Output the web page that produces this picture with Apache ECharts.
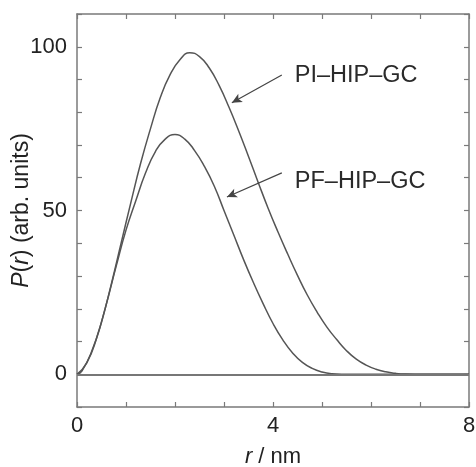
<!DOCTYPE html>
<html>
<head>
<meta charset="utf-8">
<script src="https://cdn.jsdelivr.net/npm/echarts@6/dist/echarts.min.js"></script>
<style>
html,body{margin:0;padding:0;background:#fff;}
#c{width:476px;height:467px;}
</style>
</head>
<body>
<div id="c"></div>
<script>
// PI-HIP-GC
const rPI = [0,0.1,0.3,0.5,0.7,0.9,1.1,1.3,1.5,1.7,1.9,2.1,2.3,2.5,2.7,2.9,3.1,3.3,3.5,3.7,3.9,4.1,4.3,4.5,4.7,4.9,5.1,5.3,5.5,5.7,5.9,6.1,6.3,6.5,6.7,6.9,8.0];
const pPI = [0,1,7,16,27.5,40,52.5,64.5,75,84.5,91.5,96,98.2,97,93.5,88.2,81.6,74.3,66.5,58.5,50.7,43.5,36.7,30.2,24.2,19,14.4,10.6,7.2,4.6,2.8,1.55,0.75,0.28,0.05,0,0];
// PF-HIP-GC
const rPF = [0,0.2,0.4,0.6,0.8,1.0,1.2,1.4,1.6,1.8,2.0,2.2,2.4,2.6,2.8,3.0,3.2,3.4,3.6,3.8,4.0,4.2,4.4,4.6,4.8,5.0,5.2,5.4,8.0];
const pPF = [0,3.5,11,21.5,33,44,53,61.5,68,71.8,73.2,71.8,68.3,63.5,57.5,50,42.5,35,28,21.5,15.5,10.5,6.5,3.6,1.8,0.7,0.15,0,0];
const xTicks = [0,4,8];
const yTicks = [0,50,100];
const seriesNames = ['PI\u2013HIP\u2013GC','PF\u2013HIP\u2013GC'];
// arrow annotations [startR, startP, tipR, tipP], label anchor [r,P]
const arrowPI = [4.18, 91.4, 3.16, 82.9];
const arrowPF = [4.18, 61.5, 3.06, 54.1];
const labelPI = [4.18, 91.2];
const labelPF = [4.18, 59.0];

const zip = (a,b)=>a.map((v,i)=>[v,b[i]]);
const chart = echarts.init(document.getElementById('c'));
const frame = {show:true, onZero:false, lineStyle:{color:'#7a7a7a', width:1.5}};
const tick = (len)=>({show:true, inside:true, length:len, lineStyle:{color:'#7a7a7a', width:1.2}});
const font = 'Liberation Sans, Arial, sans-serif';
const lineCol = '#555';
function arrowLine(a){
  return [{coord:[a[0],a[1]], symbol:'none'},{coord:[a[2],a[3]], symbol:'arrow', symbolSize:[7,10]}];
}
chart.setOption({
  animation:false,
  grid:{left:77, right:7, top:14, bottom:60, containLabel:false, outerBoundsMode:'none'},
  xAxis:[{
    type:'value', min:0, max:8, interval:1, position:'bottom',
    axisLine:frame, axisTick:tick(5), splitLine:{show:false},
    axisLabel:{margin:8, color:'#222', fontSize:22, fontFamily:font,
      formatter:v=>xTicks.includes(v)?String(v):''},
    name:'{i|r} / nm', nameLocation:'middle', nameGap:39, nameMoveOverlap:false,
    nameTextStyle:{color:'#222', fontSize:22, fontFamily:font,
      rich:{i:{fontStyle:'italic', fontSize:22, fontFamily:font, color:'#222'}}}
  },{
    type:'value', min:0, max:8, interval:1, position:'top',
    axisLine:frame, axisTick:tick(5), splitLine:{show:false}, axisLabel:{show:false}
  }],
  yAxis:[{
    type:'value', min:-10, max:110, interval:10, position:'left',
    axisLine:frame, axisTick:tick(5), splitLine:{show:false},
    axisLabel:{margin:10, color:'#222', fontSize:22, fontFamily:font,
      formatter:v=>yTicks.includes(v)?String(v):''},
    name:'{i|P}({i|r}) (arb. units)', nameLocation:'middle', nameGap:44, nameMoveOverlap:false,
    nameTextStyle:{color:'#222', fontSize:23, fontFamily:font,
      rich:{i:{fontStyle:'italic', fontSize:23, fontFamily:font, color:'#222'}}}
  },{
    type:'value', min:-10, max:110, interval:10, position:'right',
    axisLine:frame, axisTick:tick(5), splitLine:{show:false}, axisLabel:{show:false}
  }],
  series:[{
    name:seriesNames[0], type:'line', data:zip(rPI,pPI), smooth:0.5, symbol:'none',
    lineStyle:{color:lineCol, width:1.5},
    markLine:{silent:true, symbol:['none','none'], animation:false,
      lineStyle:{color:'#777', width:2.2, type:'solid'}, label:{show:false},
      data:[[{coord:[0,0]},{coord:[8,0]}]]},
    markPoint:{silent:true, symbol:'circle', symbolSize:0,
      data:[{coord:labelPI, label:{show:true, position:'right', distance:13, formatter:seriesNames[0],
        color:'#2a2a2a', fontSize:23.5, fontFamily:font}}]}
  },{
    name:seriesNames[1], type:'line', data:zip(rPF,pPF), smooth:0.5, symbol:'none',
    lineStyle:{color:lineCol, width:1.5},
    markLine:{silent:true, animation:false,
      lineStyle:{color:'#444', width:1.2, type:'solid'}, label:{show:false},
      data:[arrowLine(arrowPI), arrowLine(arrowPF)]},
    markPoint:{silent:true, symbol:'circle', symbolSize:0,
      data:[{coord:labelPF, label:{show:true, position:'right', distance:13, formatter:seriesNames[1],
        color:'#2a2a2a', fontSize:23.5, fontFamily:font}}]}
  }]
});
</script>
</body>
</html>
